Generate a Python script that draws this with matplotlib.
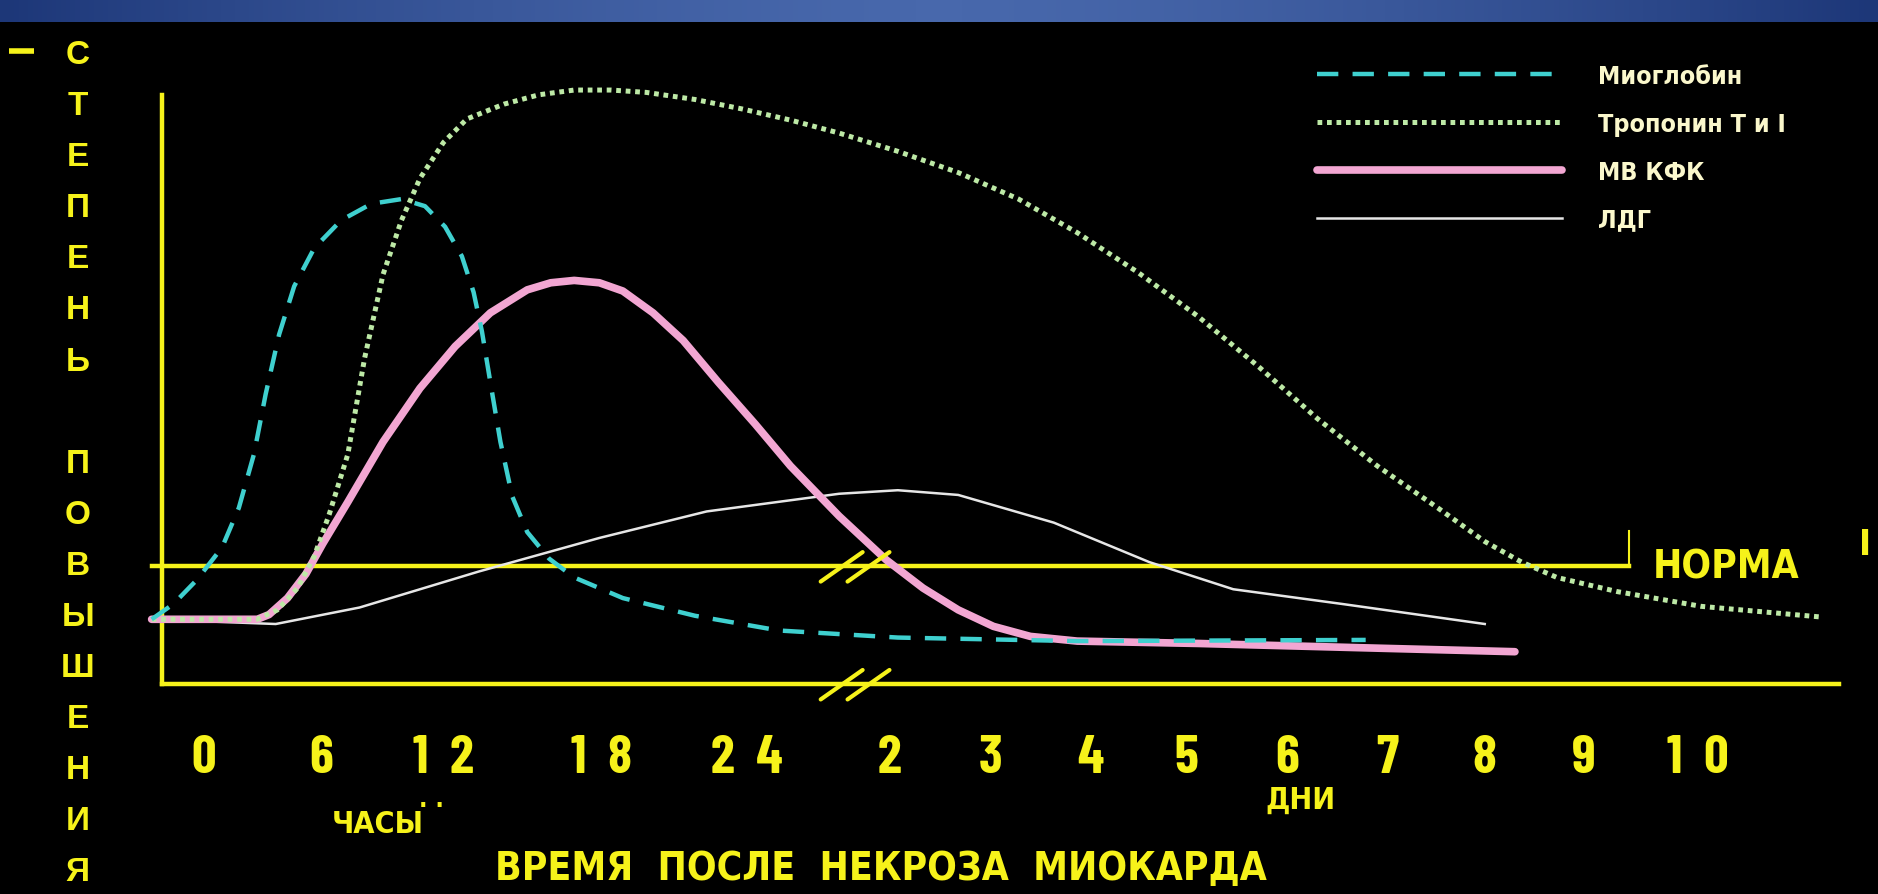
import numpy as np
import matplotlib
matplotlib.use("Agg")
import matplotlib.pyplot as plt
from matplotlib.colors import LinearSegmentedColormap

# ---------------- data ----------------
# x in chart position units (0..100 across the x axis), y = degree of elevation (0..100)
tick_pos = [2.5, 9.5, 16.8, 26.2, 34.9, 43.4, 49.4, 55.4, 61.1, 67.1, 73.1, 78.9, 84.8, 91.6]
tick_labels = ["0", "6", "1  2", "1  8", "2  4", "2", "3", "4", "5", "6", "7", "8", "9", "1  0"]

myo_x = [-0.6, 0.7, 2.1, 3.6, 4.6, 5.5, 6.2, 7.0, 7.9, 9.1, 10.7, 12.5, 14.3, 15.7, 16.9, 17.9, 18.6,
         19.1, 19.6, 20.2, 20.9, 21.8, 23.1, 24.6, 27.5, 31.8, 36.8, 43.9, 54.6, 71.8]
myo_y = [11.0, 13.6, 17.7, 23.2, 29.9, 39.0, 49.2, 59.3, 67.5, 74.0, 78.7, 81.5, 82.3, 81.1, 77.6, 72.6,
         66.5, 59.8, 51.2, 41.1, 31.9, 25.8, 21.3, 18.1, 14.6, 11.6, 9.1, 7.9, 7.3, 7.5]

trop_x = [-0.6, 5.7, 6.9, 8.1, 9.1, 10.0, 11.1, 12.1, 13.2, 14.3, 15.4, 16.8, 18.2, 20.4, 22.5, 24.6,
          26.8, 28.9, 31.8, 34.6, 37.5, 40.4, 43.9, 47.5, 51.1, 54.6, 58.2, 61.8, 65.4, 68.9, 72.5,
          76.1, 78.9, 81.1, 83.2, 86.8, 91.8, 98.9]
trop_y = [11.0, 11.0, 12.6, 16.3, 21.7, 28.9, 39.0, 55.3, 69.5, 78.7, 85.8, 91.9, 95.9, 98.4, 100.0,
          100.8, 100.8, 100.4, 99.2, 97.6, 95.7, 93.5, 90.4, 86.8, 82.3, 76.6, 69.9, 62.4, 53.9, 45.1,
          37.0, 29.9, 24.2, 20.7, 18.1, 15.7, 13.2, 11.4]

mb_x = [-0.6, 5.7, 6.4, 7.5, 8.6, 9.6, 11.1, 13.2, 15.4, 17.5, 19.6, 21.8, 23.2, 24.6, 26.1, 27.5,
        29.3, 31.1, 33.2, 35.4, 37.5, 40.4, 43.2, 45.4, 47.5, 49.6, 51.8, 54.6, 61.8, 72.5, 80.7]
mb_y = [11.0, 11.0, 11.8, 14.6, 18.7, 23.8, 30.9, 41.1, 50.2, 57.3, 63.0, 66.9, 68.1, 68.5, 68.1, 66.7,
        63.0, 58.3, 51.2, 44.1, 37.0, 28.5, 21.1, 16.3, 12.6, 9.8, 8.1, 7.3, 6.9, 6.1, 5.5]

ldh_x = [-0.6, 6.8, 11.8, 18.9, 26.1, 32.5, 40.4, 43.9, 47.5, 53.2, 58.9, 63.9, 70.4, 78.9]
ldh_y = [11.0, 10.2, 13.0, 19.1, 24.8, 29.3, 32.3, 32.9, 32.1, 27.4, 20.7, 16.1, 13.6, 10.2]

norm_level = 20.0
norm_end = 87.5

series_names = ["Миоглобин", "Тропонин Т и I", "МВ КФК", "ЛДГ"]
ylabel_letters = list("СТЕПЕНЬ") + [""] + list("ПОВЫШЕНИЯ")

# ---------------- style ----------------
YEL = "#f6f21a"
CYAN = "#3fd0cf"
GREEN = "#bde9a6"
PINK = "#f2a6d2"
WHITE = "#e6e6e6"
CREAM = "#fbf8cc"
COND = dict(family=["DejaVu Sans"], fontstretch="condensed", fontweight="bold")

fig = plt.figure(figsize=(18.78, 8.95), dpi=100, facecolor="black")

# top blue band
band = fig.add_axes([0, 1 - 23 / 895, 1, 23 / 895])
g = np.linspace(-1, 1, 400)
grad = 1 - np.abs(g) ** 1.5
cm = LinearSegmentedColormap.from_list("b", ["#1d3778", "#4868ac"])
band.imshow(grad[None, :], aspect="auto", cmap=cm, extent=[0, 1, 0, 1])
band.axis("off")

ax = fig.add_axes([0.0861, 0.2345, 0.8929, 0.6585])
ax.set_facecolor("black")
ax.set_xlim(0, 100)
ax.set_ylim(0, 100)
for s in ["top", "right"]:
    ax.spines[s].set_visible(False)
for s in ["left", "bottom"]:
    ax.spines[s].set_color(YEL)
    ax.spines[s].set_linewidth(3.2)
ax.set_yticks([])
ax.set_xticks(tick_pos)
ax.set_xticklabels(tick_labels)
ax.tick_params(axis="x", length=0, pad=36, labelcolor=YEL, labelsize=39)
for lab in ax.get_xticklabels():
    lab.set_fontfamily(["Barlow Condensed", "DejaVu Sans"])
    lab.set_fontweight("bold")

# norm line
ax.plot([-0.6, norm_end], [norm_level, norm_level], color=YEL, lw=3.2, clip_on=False, zorder=1)
ax.plot([norm_end, norm_end], [norm_level, norm_level + 6], color=YEL, lw=1.5, clip_on=False, zorder=1)

# break marks
for yb in (norm_level, 0):
    for x0 in (39.3, 40.9):
        ax.plot([x0, x0 + 2.5], [yb - 2.6, yb + 2.4], color=YEL, lw=3, clip_on=False, zorder=5,
                solid_capstyle="round")

# curves
l_ldh, = ax.plot(ldh_x, ldh_y, color=WHITE, lw=1.8, clip_on=False, zorder=3, label=series_names[3])
l_mb, = ax.plot(mb_x, mb_y, color=PINK, lw=5.5, clip_on=False, zorder=4, label=series_names[2],
                solid_capstyle="round", solid_joinstyle="round")
l_trop, = ax.plot(trop_x, trop_y, color=GREEN, lw=3.6, ls=(0, (0.95, 0.95)), clip_on=False, zorder=4,
                  label=series_names[1])
l_myo, = ax.plot(myo_x, myo_y, color=CYAN, lw=3.2, ls=(0, (4.8, 3.2)), clip_on=False, zorder=5,
                 label=series_names[0])

leg = ax.legend(handles=[l_myo, l_trop, l_mb, l_ldh], loc="upper left",
                bbox_to_anchor=(68.9, 105.2), bbox_transform=ax.transData,
                frameon=False, handlelength=9.8, handletextpad=1.45, labelspacing=0.95,
                borderpad=0, borderaxespad=0,
                prop={"family": "DejaVu Sans", "stretch": "condensed", "weight": "bold", "size": 18})
for t in leg.get_texts():
    t.set_color(CREAM)

# texts
tk = dict(color=YEL, ha="center", va="center", clip_on=False, **COND)
ax.text(93.3, norm_level, "НОРМА", fontsize=28, **tk)
ax.text(101.6, 23.8, "I", fontsize=26, **tk)
ax.text(12.9, -23.6, "ЧАСЫ", fontsize=22, **tk)
ax.text(16.1, -19.5, ". .", fontsize=18, **tk)
ax.text(67.9, -19.6, "ДНИ", fontsize=22, **tk)
ax.text(42.9, -31.2, "ВРЕМЯ  ПОСЛЕ  НЕКРОЗА  МИОКАРДА", fontsize=28, **tk)

ys = np.linspace(106.8, -31.8, len(ylabel_letters))
for ch, yy in zip(ylabel_letters, ys):
    if ch:
        ax.text(-5.0, yy, ch, fontsize=24, color=YEL, fontweight="bold",
                family=["Liberation Sans", "DejaVu Sans"], ha="center", va="center", clip_on=False)
ax.plot([-9.1, -7.6], [107.4, 107.4], color=YEL, lw=4, clip_on=False, solid_capstyle="butt")

fig.savefig("out.png", dpi=100, facecolor="black")
